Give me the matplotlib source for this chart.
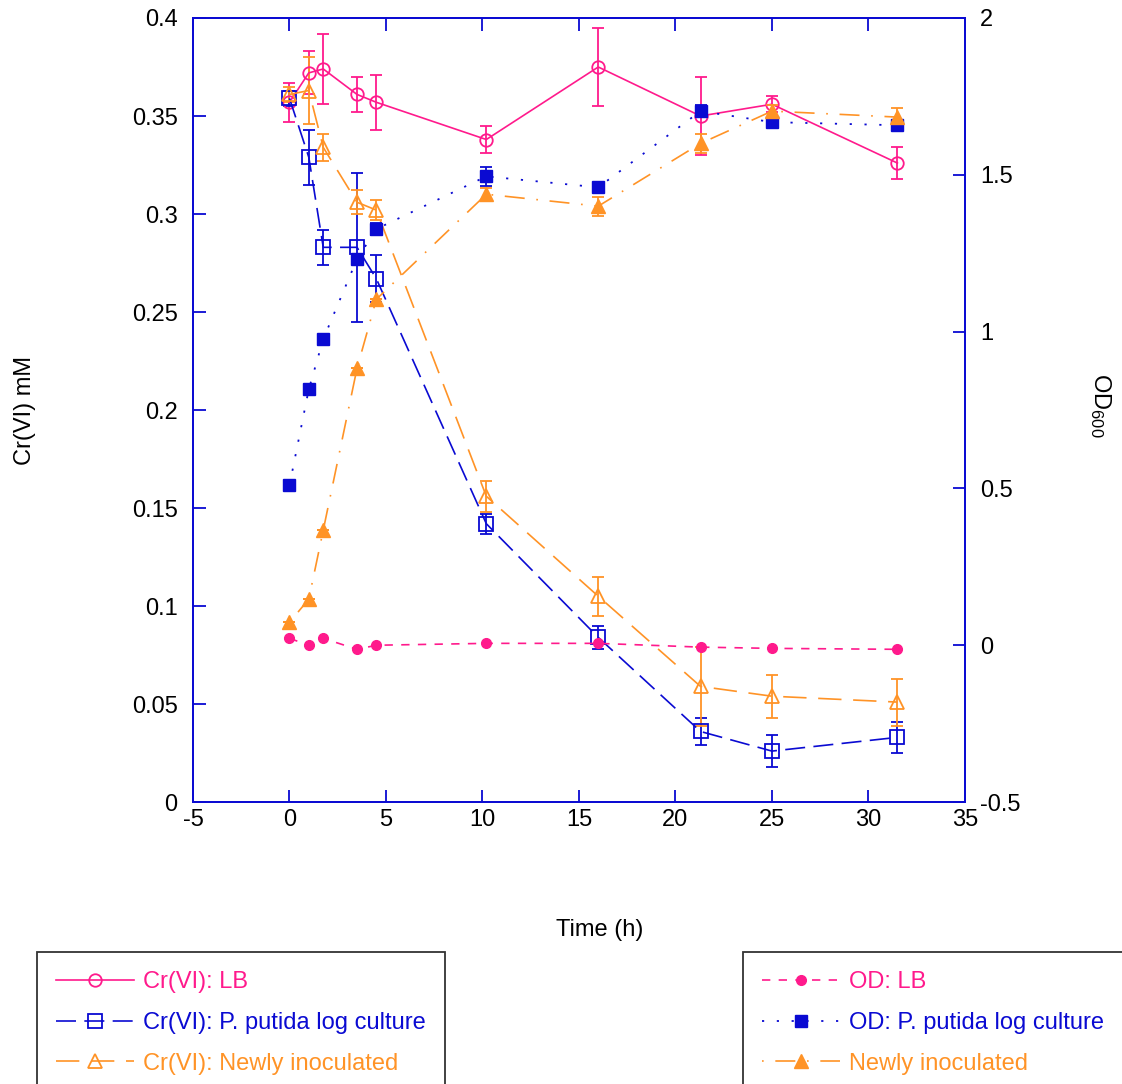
import matplotlib
matplotlib.use("Agg")
import matplotlib.pyplot as plt
from matplotlib.ticker import FormatStrFormatter, MultipleLocator

plt.rcParams['font.family'] = ['Liberation Sans', 'DejaVu Sans']
plt.rcParams['mathtext.default'] = 'regular'

# Czas pomiaru (h)
time = [0, 1, 1.75, 3.5, 4.5, 10.2, 16, 21.3, 25, 31.5]

# Cr(VI) mM
cr_lb = [0.357, 0.372, 0.374, 0.361, 0.357, 0.338, 0.375, 0.350, 0.356, 0.326]
cr_lb_err = [0.010, 0.011, 0.018, 0.009, 0.014, 0.007, 0.020, 0.020, 0.004, 0.008]
cr_put = [0.359, 0.329, 0.283, 0.283, 0.267, 0.142, 0.084, 0.036, 0.026, 0.033]
cr_put_err = [0.004, 0.014, 0.009, 0.038, 0.012, 0.005, 0.006, 0.007, 0.008, 0.008]
cr_new = [0.361, 0.363, 0.334, 0.306, 0.302, 0.156, 0.105, 0.059, 0.054, 0.051]
cr_new_err = [0.004, 0.017, 0.007, 0.006, 0.005, 0.008, 0.010, 0.020, 0.011, 0.012]

# OD600
od_lb = [0.022, 0.0, 0.022, -0.013, 0.0, 0.006, 0.006, -0.006, -0.010, -0.013]
od_put = [0.51, 0.816, 0.976, 1.231, 1.327, 1.495, 1.46, 1.703, 1.668, 1.658]
od_put_err = [0.0, 0.0, 0.0, 0.0, 0.02, 0.03, 0.0, 0.02, 0.0, 0.0]
od_new = [0.073, 0.147, 0.367, 0.883, 1.103, 1.438, 1.40, 1.60, 1.703, 1.684]
od_new_err = [0.0, 0.0, 0.0, 0.0, 0.0, 0.02, 0.03, 0.03, 0.02, 0.03]

pink = '#FF1A8C'
blue = '#0A0AD2'
orange = '#FF9326'

fig = plt.figure(figsize=(11.22, 10.84), dpi=100)
ax = fig.add_axes([0.172, 0.2601, 0.688, 0.7233])
ax2 = ax.twinx()

eb = dict(fmt='none', elinewidth=1.3, capsize=4, capthick=1.3)

# Cr(VI) - lewa os
ax.errorbar(time, cr_lb, yerr=cr_lb_err, ecolor=pink, **eb)
ax.errorbar(time, cr_put, yerr=cr_put_err, ecolor=blue, **eb)
ax.errorbar(time, cr_new, yerr=cr_new_err, ecolor=orange, **eb)
l1, = ax.plot(time, cr_lb, color=pink, lw=1.2, ls='-', marker='o', ms=9,
              mfc='none', mew=1.3, label='Cr(VI): LB')
l2, = ax.plot(time, cr_put, color=blue, lw=1.2, ls=(0, (12, 5)), marker='s', ms=10,
              mfc='none', mew=1.3, label='Cr(VI): P. putida log culture')
l3, = ax.plot(time, cr_new, color=orange, lw=1.2, ls=(0, (14, 7)), marker='^', ms=10,
              mfc='none', mew=1.3, label='Cr(VI): Newly inoculated')

# OD - prawa os
ax2.errorbar(time, od_put, yerr=od_put_err, ecolor=blue, **eb)
ax2.errorbar(time, od_new, yerr=od_new_err, ecolor=orange, **eb)
l4, = ax2.plot(time, od_lb, color=pink, lw=1.2, ls=(0, (5, 5)), marker='o', ms=7,
               label='OD: LB')
l5, = ax2.plot(time, od_put, color=blue, lw=1.3, ls=(0, (1.2, 7)), marker='s', ms=9,
               label='OD: P. putida log culture')
l6, = ax2.plot(time, od_new, color=orange, lw=1.2, ls=(0, (1, 7, 12, 7)), marker='^', ms=10,
               label='Newly inoculated')

ax.set_xlim(-5, 35)
ax.set_ylim(0, 0.4)
ax2.set_ylim(-0.5, 2)
ax.xaxis.set_major_locator(MultipleLocator(5))
ax.yaxis.set_major_locator(MultipleLocator(0.05))
ax2.yaxis.set_major_locator(MultipleLocator(0.5))
ax.xaxis.set_major_formatter(FormatStrFormatter('%g'))
ax.yaxis.set_major_formatter(FormatStrFormatter('%g'))
ax2.yaxis.set_major_formatter(FormatStrFormatter('%g'))

for a in (ax, ax2):
    for s in a.spines.values():
        s.set_color(blue)
        s.set_linewidth(1.3)
ax.tick_params(axis='both', direction='in', length=9, width=1.3, color=blue,
               labelsize=17, labelcolor='black', top=True)
ax.tick_params(axis='y', right=False, pad=11)
ax.tick_params(axis='x', pad=5)
ax2.tick_params(axis='y', direction='in', length=9, width=1.3, color=blue,
                labelsize=17, labelcolor='black', pad=11)

ax.set_xlabel('Time (h)', fontsize=17)
ax.xaxis.set_label_coords(0.527, -0.149)
ax.set_ylabel('Cr(VI) mM', fontsize=17)
ax.yaxis.set_label_coords(-0.204, 0.5)
ax2.set_ylabel('OD$_{600}$', fontsize=17, rotation=270, va='center')
ax2.yaxis.set_label_coords(1.175, 0.506)

leg_kw = dict(loc='upper left', fontsize=17, frameon=True, fancybox=False,
              edgecolor='black', labelcolor='linecolor', handlelength=3.3,
              labelspacing=0.8, borderaxespad=0, borderpad=0.8, numpoints=1,
              handletextpad=0.4)
lg1 = fig.legend(handles=[l1, l2, l3], bbox_to_anchor=(37 / 1122, 1 - 952 / 1084), **leg_kw)
lg2 = fig.legend(handles=[l4, l5, l6], bbox_to_anchor=(743 / 1122, 1 - 952 / 1084), **leg_kw)
for lg in (lg1, lg2):
    lg.get_frame().set_linewidth(1.3)

fig.savefig('out.png', dpi=100)
